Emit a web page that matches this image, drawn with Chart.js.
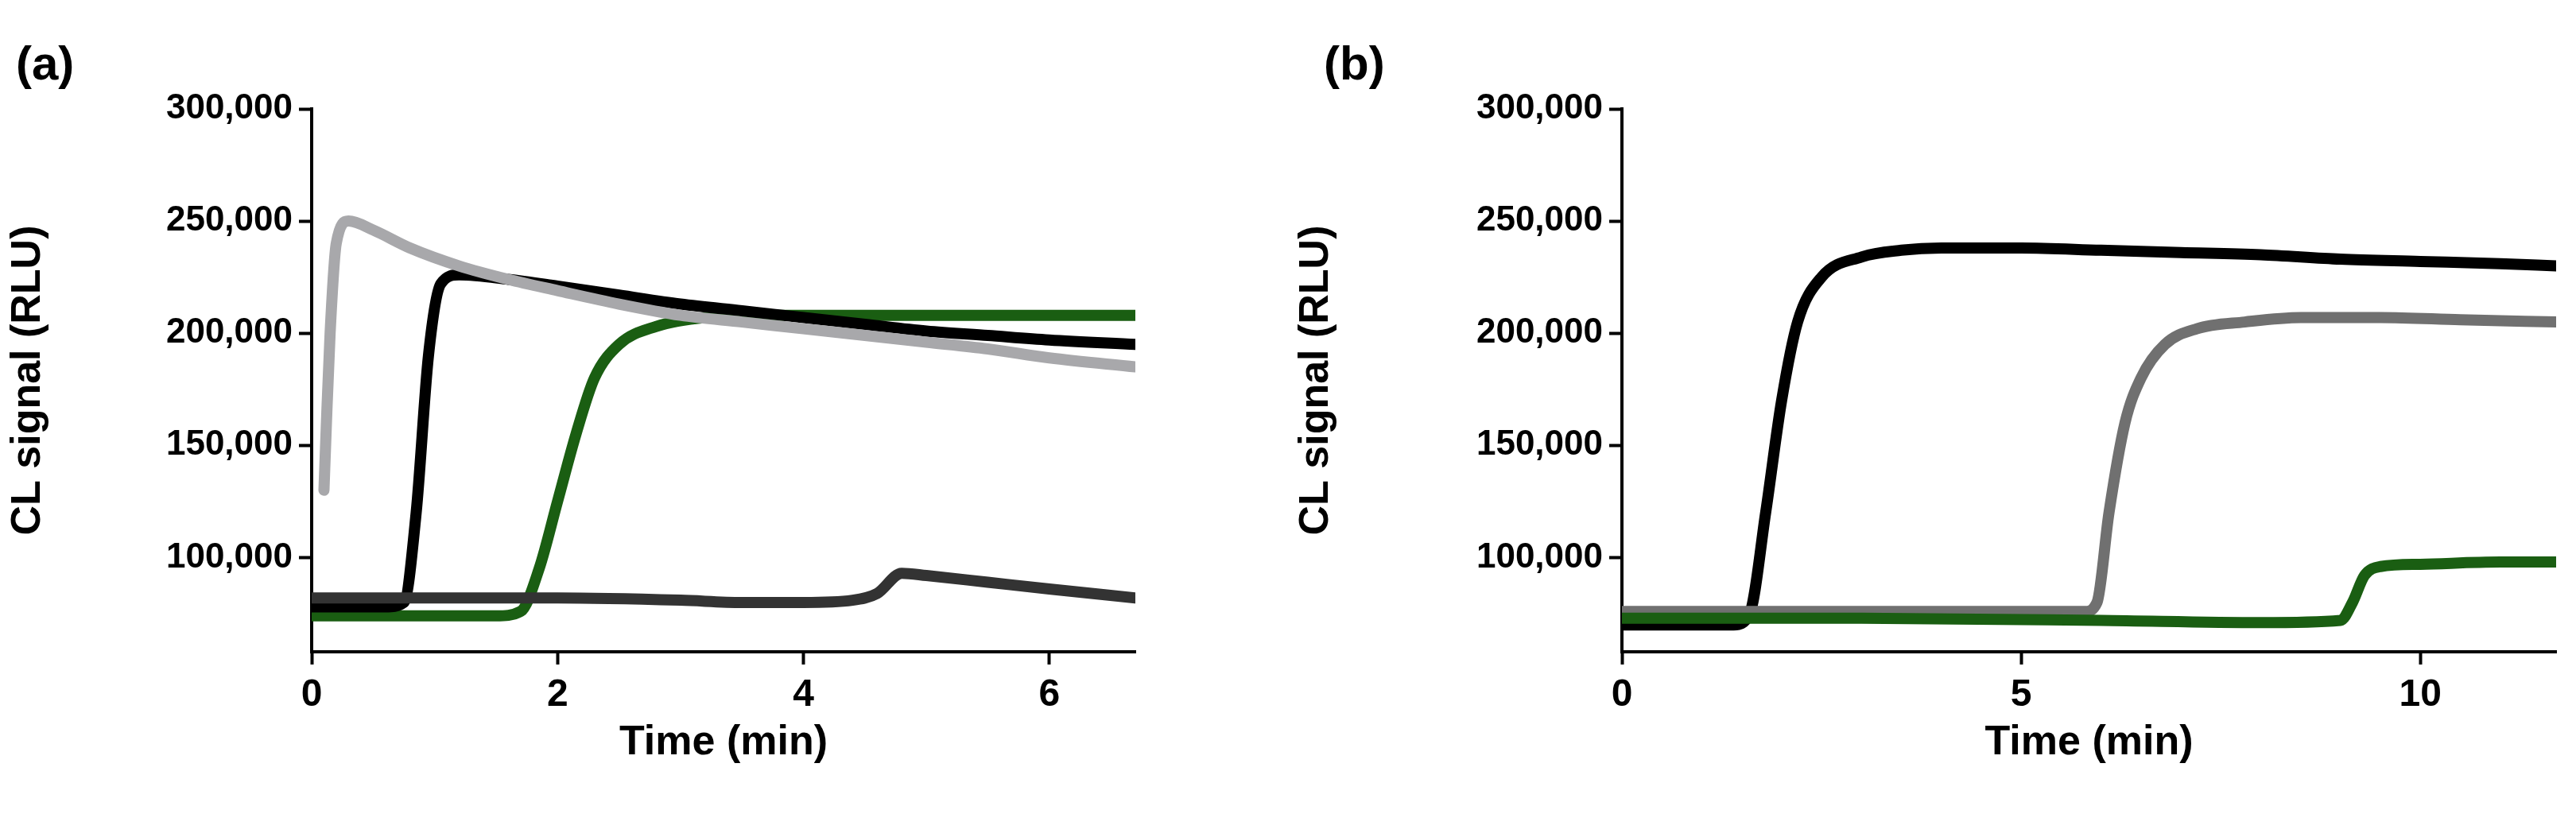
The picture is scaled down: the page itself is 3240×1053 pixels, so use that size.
<!DOCTYPE html>
<html><head><meta charset="utf-8">
<script src="https://cdn.jsdelivr.net/npm/chart.js@4"></script>
<style>body{margin:0;background:#fff;width:3240px;height:1053px;position:relative;overflow:hidden;font-family:"Liberation Sans",Arial,sans-serif}
.c{position:absolute;top:0}
.lab{position:absolute;font-weight:bold;font-size:60px}</style></head><body>
<div class="lab" style="left:20px;top:45px">(a)</div>
<div class="lab" style="left:1665px;top:45px">(b)</div>
<div class="c" style="left:0;width:1600px;height:1053px"><canvas id="ca"></canvas></div>
<div class="c" style="left:1620px;width:1620px;height:1053px"><canvas id="cb"></canvas></div>
<script>
const yTicks=[100000,150000,200000,250000,300000];
const aXTicks=[0,2,4,6];
const bXTicks=[0,5,10];
// Panel (a) series: [time min, RLU]
const aLightGray=[[0.1,130000],[0.12,160000],[0.15,200000],[0.2,240000],[0.3,250000],[0.5,246000],[0.8,238000],[1.2,230000],[1.6,224000],[2,219000],[2.5,213000],[3,208000],[3.5,205000],[4,202000],[4.5,199000],[5,196000],[5.5,193000],[6,189000],[6.7,185000]];
const aBlack=[[0,78000],[0.6,78000],[0.75,80000],[0.85,120000],[0.95,190000],[1.05,222000],[1.2,226000],[1.6,224000],[2,221000],[2.5,217000],[3,213000],[3.5,210000],[4,207000],[4.5,204000],[5,201000],[5.5,199000],[6,197000],[6.7,195000]];
const aGreen=[[0,74000],[1.5,74000],[1.7,76000],[1.85,95000],[2,125000],[2.15,155000],[2.3,180000],[2.5,195000],[2.8,203000],[3.2,207000],[3.8,208000],[4.5,208000],[5.5,208000],[6.7,208000]];
const aDarkGray=[[0,82000],[1,82000],[2,82000],[3,81000],[3.5,80000],[4,80000],[4.4,81000],[4.6,84000],[4.8,93000],[5,92000],[5.5,89000],[6,86000],[6.7,82000]];
// Panel (b)
const bBlack=[[0,70000],[1.4,70000],[1.6,75000],[1.8,120000],[2,170000],[2.2,205000],[2.5,225000],[3,234000],[3.5,237000],[4,238000],[5,238000],[6,237000],[7,236000],[8,235000],[9,233000],[10,232000],[11,231000],[11.7,230000]];
const bGray=[[0,76000],[3,76000],[5.8,76000],[5.95,80000],[6.1,120000],[6.3,160000],[6.5,180000],[6.8,195000],[7.2,202000],[7.8,205000],[8.5,207000],[9.5,207000],[10.5,206000],[11.7,205000]];
const bGreen=[[0,73000],[3,73000],[6,72000],[8,71000],[9,72000],[9.15,80000],[9.3,92000],[9.5,96000],[10,97000],[11,98000],[11.7,98000]];

const font={family:"Liberation Sans",weight:"bold",size:44};
function ds(d,c){return{data:d.map(p=>({x:p[0],y:p[1]})),borderColor:c,backgroundColor:c,borderWidth:14,pointRadius:0,tension:0.3,cubicInterpolationMode:'monotone',borderCapStyle:'round'};}
function make(id,sets,xmax,xt,yw,right){
 new Chart(document.getElementById(id),{type:'line',data:{datasets:sets},
 options:{responsive:false,animation:false,maintainAspectRatio:false,
  layout:{padding:{top:137,right:right,left:0,bottom:83}},
  plugins:{legend:{display:false},tooltip:{enabled:false}},
  scales:{
   x:{type:'linear',min:0,max:xmax,afterBuildTicks:s=>{s.ticks=xt.map(v=>({value:v}));},
     ticks:{font:{...font,size:48},color:'#000',padding:10},
     grid:{drawOnChartArea:false,tickLength:16,tickColor:'#000',tickWidth:4},border:{color:'#000',width:4},
     title:{display:true,text:'Time (min)',font:{...font,size:52},color:'#000',padding:{top:10}},
     afterFit:s=>{s.height=150;}},
   y:{min:58000,max:300000,afterBuildTicks:s=>{s.ticks=yTicks.map(v=>({value:v}));},
     ticks:{font,color:'#000',padding:8,callback:v=>v.toLocaleString('en-US')},
     grid:{drawOnChartArea:false,tickLength:16,tickColor:'#000',tickWidth:4},border:{color:'#000',width:4},
     title:{display:true,text:'CL signal (RLU)',font:{...font,size:52},color:'#000',padding:{bottom:10}},
     afterFit:s=>{s.width=yw;}}
  }}});
}
const ca=document.getElementById('ca');ca.width=1600;ca.height=1053;
const cb=document.getElementById('cb');cb.width=1620;cb.height=1053;
make('ca',[ds(aDarkGray,'#333333'),ds(aLightGray,'#a8a8ab'),ds(aBlack,'#000000'),ds(aGreen,'#1a5e12')],6.7,aXTicks,392,172);
make('cb',[ds(bGreen,'#1a5e12'),ds(bGray,'#707070'),ds(bBlack,'#000000')],11.7,bXTicks,420,25);
</script></body></html>
